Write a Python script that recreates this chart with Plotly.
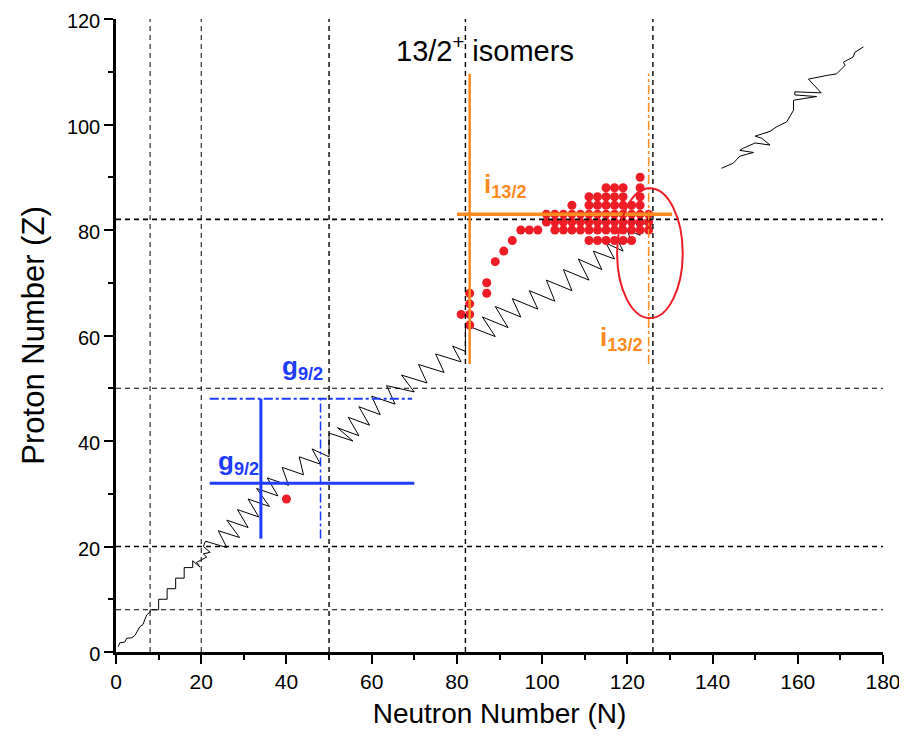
import plotly.graph_objects as go

# ---------------- data ----------------
magic_N = [8, 20, 50, 82, 126]
magic_Z = [8, 20, 50, 82]

# stability/zigzag line (lower part)
line_N = [0.5, 0.9, 2.1, 2.5, 3.7, 4.5, 4.9, 5.6, 6.3, 6.8, 7.2, 8, 8, 10, 10, 12, 12, 14, 14, 16, 16, 18, 18,
          19.7, 18.9, 21.3, 20.5, 22.1, 20.5, 21,
          26, 24, 29, 26, 31, 28.5, 33.5, 31, 36, 33, 38, 35.5, 40.5, 39, 44, 43, 48, 46, 50, 50, 55.6,
          52, 57, 54.5, 59.5, 57, 62, 60, 65.5, 63.5, 70, 67, 73, 71, 77, 75, 81, 79, 82, 82,
          89, 86, 92, 89, 95, 93, 99, 97, 103, 101, 107, 105, 111, 108.5, 114, 112, 117, 115, 119,
          117.5, 121, 120, 123, 122, 125, 124]
line_Z = [1, 1.75, 1.9, 2.6, 2.7, 3.2, 3.8, 4.8, 5.2, 6.3, 7.0, 7.6, 8, 8, 10, 10, 12, 12, 14, 14, 16, 16, 17.3,
          16.1, 17, 18, 18.6, 18.9, 20, 21,
          19.8, 23, 21.7, 25, 23.6, 27, 25.6, 29, 27.6, 31, 29.6, 33, 31.6, 35, 33.6, 37, 35.6, 38.5, 37, 41.5, 40,
          42.5, 41, 44.5, 43, 46.5, 45, 48.5, 47, 50.5, 49.3, 52.5, 51, 54.5, 53, 56.5, 55, 58, 57, 62,
          59.8, 63.5, 61.5, 65.5, 63.5, 67, 65, 68.5, 66.5, 70.5, 68.5, 72.5, 70.5, 74.5, 72.5, 76, 74.5, 77.5, 76,
          78.5, 77.5, 80, 79, 81.5, 81, 82]

# zigzag line (upper right part)
line2_N = [142.1, 144.9, 146.4, 149.6, 146.4, 147.2, 150.0, 153.5, 151.5, 150.0, 153.5, 155.1, 157.4, 159.0,
           159.0, 164.4, 159.3, 159.3, 165.5, 162.5, 166.8, 169.1, 171.1, 170.7, 173.0, 173.4, 175.4]
line2_Z = [91.7, 92.7, 94.0, 94.7, 95.1, 95.5, 96.5, 96.1, 97.4, 97.8, 98.7, 99.6, 100.5, 102.7,
           104.6, 105.3, 105.6, 106.2, 106.0, 108.6, 109.3, 109.6, 111.2, 111.8, 112.8, 113.7, 114.7]

# 13/2+ isomers (N, Z)
iso_rows = {
    90: [123],
    88: [115, 117, 119, 123],
    86.3: [111, 113, 115, 117, 119, 123],
    84.7: [107, 111, 113, 115, 117, 119, 121, 123],
    83: [101, 103, 105, 107, 109, 111, 113, 115, 117, 119, 121, 123, 125],
    81.5: [101, 103, 105, 107, 109, 111, 113, 115, 117, 119, 121, 123, 125],
    80: [95, 97, 99, 103, 105, 107, 109, 111, 113, 115, 117, 119, 121, 123, 125],
    78: [111, 113, 115, 117, 119, 121],
}
iso_extra_N = [81, 83, 83, 83, 83, 87, 87, 89, 91, 93, 40]
iso_extra_Z = [64, 62, 64, 66, 68, 68, 70, 74, 76, 78, 29]

iso_N, iso_Z = [], []
for z, ns in iso_rows.items():
    for n in ns:
        iso_N.append(n)
        iso_Z.append(z)
iso_N += iso_extra_N
iso_Z += iso_extra_Z

# shell-model orbital guide lines
g_solid_N = [34]; g_solid_Zrange = [21.5, 48]
g_solid_Z = [32]; g_solid_Nrange = [22, 70]
g_dd_Z = [48];    g_dd_Nrange = [22, 69.5]
g_dd_N = [48];    g_dd_Zrange = [21.5, 48]
i_solid_N = [83]; i_Zrange = [54.6, 109.6]
i_solid_Z = [83]; i_Nrange = [80, 130.5]
i_dd_N = [125]

ellipse_center = (125.3, 75.6)
ellipse_semi = (7.7, 12.3)

BLUE = "#1e3cff"
ORANGE = "#ff8a1e"
RED = "#ee1c25"
FONT = "Liberation Sans, Arial, sans-serif"
DASH = "5px,4px"

fig = go.Figure()

fig.add_trace(go.Scatter(x=line_N, y=line_Z, mode="lines",
                         line=dict(color="black", width=1), hoverinfo="skip", showlegend=False))
fig.add_trace(go.Scatter(x=line2_N, y=line2_Z, mode="lines",
                         line=dict(color="black", width=1), hoverinfo="skip", showlegend=False))

shapes = []
for n in magic_N:
    shapes.append(dict(type="line", xref="x", yref="y", x0=n, x1=n, y0=0, y1=120,
                       line=dict(color="black", width=1.4 if n in (50, 82, 126) else 1, dash=DASH)))
for z in magic_Z:
    shapes.append(dict(type="line", xref="x", yref="y", x0=0, x1=180, y0=z, y1=z,
                       line=dict(color="black", width=1.7 if z in (20, 82) else 1.1, dash=DASH)))

# blue g9/2 lines
shapes.append(dict(type="line", xref="x", yref="y", x0=g_solid_N[0], x1=g_solid_N[0],
                   y0=g_solid_Zrange[0], y1=g_solid_Zrange[1], line=dict(color=BLUE, width=3)))
shapes.append(dict(type="line", xref="x", yref="y", x0=g_solid_Nrange[0], x1=g_solid_Nrange[1],
                   y0=g_solid_Z[0], y1=g_solid_Z[0], line=dict(color=BLUE, width=3)))
shapes.append(dict(type="line", xref="x", yref="y", x0=g_dd_Nrange[0], x1=g_dd_Nrange[1],
                   y0=g_dd_Z[0], y1=g_dd_Z[0], line=dict(color=BLUE, width=2, dash="dashdot")))
shapes.append(dict(type="line", xref="x", yref="y", x0=g_dd_N[0], x1=g_dd_N[0],
                   y0=g_dd_Zrange[0], y1=g_dd_Zrange[1], line=dict(color=BLUE, width=1.5, dash="dashdot")))
# orange i13/2 lines
shapes.append(dict(type="line", xref="x", yref="y", x0=i_solid_N[0], x1=i_solid_N[0],
                   y0=i_Zrange[0], y1=i_Zrange[1], line=dict(color=ORANGE, width=2.5)))
shapes.append(dict(type="line", xref="x", yref="y", x0=i_Nrange[0], x1=i_Nrange[1],
                   y0=i_solid_Z[0], y1=i_solid_Z[0], line=dict(color=ORANGE, width=3.5)))
shapes.append(dict(type="line", xref="x", yref="y", x0=i_dd_N[0], x1=i_dd_N[0],
                   y0=i_Zrange[0], y1=i_Zrange[1], line=dict(color=ORANGE, width=1.5, dash="dashdot")))

fig.add_trace(go.Scatter(x=iso_N, y=iso_Z, mode="markers",
                         marker=dict(color=RED, size=9, line=dict(width=0)),
                         hoverinfo="skip", showlegend=False))

# ellipse (drawn above)
shapes.append(dict(type="circle", xref="x", yref="y", layer="above",
                   x0=ellipse_center[0] - ellipse_semi[0], x1=ellipse_center[0] + ellipse_semi[0],
                   y0=ellipse_center[1] - ellipse_semi[1], y1=ellipse_center[1] + ellipse_semi[1],
                   line=dict(color=RED, width=2)))

annotations = [
    dict(x=86.6, y=114.4, xref="x", yref="y", text="13/2<sup>+</sup> isomers", showarrow=False,
         font=dict(family=FONT, size=29, color="black")),
    dict(x=23.5, y=36, xref="x", yref="y", xanchor="left", text="<b>g<sub>9/2</sub></b>", showarrow=False,
         font=dict(family=FONT, size=26, color=BLUE)),
    dict(x=38.5, y=54, xref="x", yref="y", xanchor="left", text="<b>g<sub>9/2</sub></b>", showarrow=False,
         font=dict(family=FONT, size=26, color=BLUE)),
    dict(x=86, y=88.5, xref="x", yref="y", xanchor="left", text="<b>i<sub>13/2</sub></b>", showarrow=False,
         font=dict(family=FONT, size=26, color=ORANGE)),
    dict(x=113, y=59.5, xref="x", yref="y", xanchor="left", text="<b>i<sub>13/2</sub></b>", showarrow=False,
         font=dict(family=FONT, size=26, color=ORANGE)),
]

# the page body has an 8px margin, so the figure is sized/offset to compensate
fig.update_layout(
    width=899, height=742,
    margin=dict(l=108, r=24, t=11, b=98),
    paper_bgcolor="white", plot_bgcolor="white",
    shapes=shapes, annotations=annotations,
    font=dict(family=FONT, color="black"),
    xaxis=dict(range=[0, 180], dtick=20, tick0=0, showgrid=False, zeroline=False, automargin=False,
               showline=True, linecolor="black", linewidth=2.5, ticks="outside", ticklen=9, tickwidth=2,
               tickcolor="black", tickfont=dict(size=21, family=FONT), ticklabeloverflow="allow",
               minor=dict(dtick=10, ticks="outside", ticklen=5, tickwidth=2, tickcolor="black"),
               title=dict(text="Neutron Number (N)", font=dict(size=28, family=FONT), standoff=12)),
    yaxis=dict(range=[0, 120], dtick=20, tick0=0, showgrid=False, zeroline=False, automargin=False,
               showline=True, linecolor="black", linewidth=2.5, ticks="outside", ticklen=9, tickwidth=2,
               tickcolor="black", tickfont=dict(size=20, family=FONT), ticklabeloverflow="allow",
               ticklabelshift=2,
               minor=dict(dtick=10, ticks="outside", ticklen=5, tickwidth=2, tickcolor="black"),
               title=dict(text="Proton Number (Z)", font=dict(size=31, family=FONT), standoff=14)),
)

fig.write_html("out.html")
